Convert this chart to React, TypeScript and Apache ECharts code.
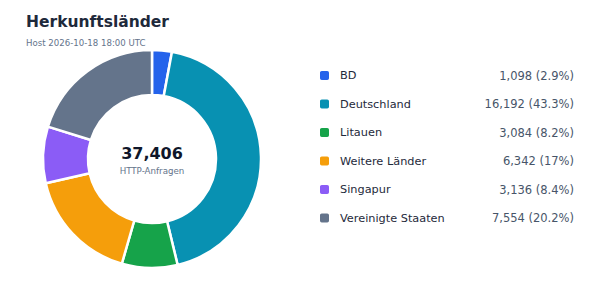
import React, { useEffect, useRef } from "react";
import * as echarts from "echarts";

const countries = ["BD", "Deutschland", "Litauen", "Weitere Länder", "Singapur", "Vereinigte Staaten"];
const requests = [1098, 16192, 3084, 6342, 3136, 7554];
const colors = ["#2563eb", "#0891b2", "#16a34a", "#f59e0b", "#8b5cf6", "#64748b"];
const titleText = "Herkunftsländer";
const subtitleText = "Host 2026-10-18 18:00 UTC";
const centerCaption = "HTTP-Anfragen";

const FONT = "'DejaVu Sans', sans-serif";

export default function App() {
  const ref = useRef<HTMLDivElement>(null);

  useEffect(() => {
    if (!ref.current) return;
    const chart = echarts.init(ref.current, undefined, { renderer: "svg" });
    const total = requests.reduce((a, b) => a + b, 0);
    const fmt = (n: number) => n.toLocaleString("en-US");
    const pct = (n: number) => {
      const p = Math.round((n / total) * 1000) / 10;
      return `${p}%`;
    };

    chart.setOption({
      animation: false,
      textStyle: { fontFamily: FONT },
      title: {
        left: 26,
        top: 14,
        padding: 0,
        text: titleText,
        subtext: subtitleText,
        itemGap: 8,
        textStyle: { fontFamily: FONT, fontSize: 15.5, fontWeight: "bold", color: "#1e293b" },
        subtextStyle: { fontFamily: FONT, fontSize: 8.6, color: "#64748b" },
      },
      legend: {
        orient: "vertical",
        left: 318,
        top: 69,
        padding: 0,
        itemWidth: 11,
        itemHeight: 11,
        itemGap: 15.5,
        icon: "roundRect",
        selectedMode: false,
        data: countries,
        formatter: (name: string) => {
          const i = countries.indexOf(name);
          return `{n|${name}}{v|${fmt(requests[i])} (${pct(requests[i])})}`;
        },
        textStyle: {
          fontFamily: FONT,
          padding: [0, 0, 0, 5],
          rich: {
            n: { fontFamily: FONT, fontSize: 11.3, color: "#1e293b", width: 130, lineHeight: 14 },
            v: { fontFamily: FONT, fontSize: 11.5, color: "#475569", width: 104, align: "right", lineHeight: 14 },
          },
        },
      },
      graphic: [
        {
          type: "text",
          x: 152,
          y: 153,
          style: {
            text: fmt(total),
            fontFamily: FONT,
            fontSize: 16,
            fontWeight: "bold",
            fill: "#0f172a",
            textAlign: "center",
            textVerticalAlign: "middle",
          },
        },
        {
          type: "text",
          x: 152,
          y: 171,
          style: {
            text: centerCaption,
            fontFamily: FONT,
            fontSize: 8.7,
            fill: "#64748b",
            textAlign: "center",
            textVerticalAlign: "middle",
          },
        },
      ],
      series: [
        {
          type: "pie",
          center: [152, 159],
          radius: [64, 109],
          startAngle: 90,
          clockwise: true,
          label: { show: false },
          labelLine: { show: false },
          emphasis: { disabled: true },
          itemStyle: { borderColor: "#ffffff", borderWidth: 2.5 },
          data: countries.map((name, i) => ({
            name,
            value: requests[i],
            itemStyle: { color: colors[i] },
          })),
        },
      ],
    });

    return () => chart.dispose();
  }, []);

  return (
    <div
      ref={ref}
      style={{ position: "fixed", left: 0, top: 0, width: 600, height: 303, background: "#ffffff" }}
    />
  );
}
